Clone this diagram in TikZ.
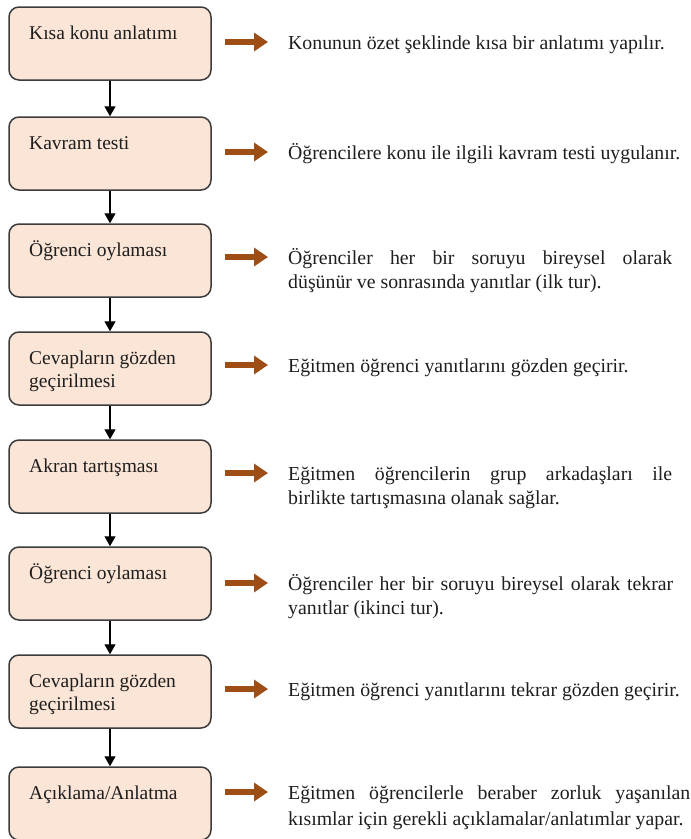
\documentclass[tikz,border=0pt]{standalone}
\usepackage{fontspec}
\setmainfont{Liberation Serif}
\usetikzlibrary{arrows.meta}
\definecolor{boxfill}{HTML}{FBE5D6}
\definecolor{boxline}{HTML}{3C3C3C}
\definecolor{arrowc}{RGB}{158,78,20}
\definecolor{txt}{HTML}{1E1E1E}
\newcommand{\topstrut}{\rule{0pt}{18pt}}
\begin{document}
\begin{tikzpicture}[x=1pt,y=-1pt,
  stepbox/.style={draw=boxline,line width=1.5pt,fill=boxfill,rounded corners=10pt,
    minimum width=202pt,minimum height=73pt,inner sep=0pt},
  boxtext/.style={anchor=north west,inner sep=0pt,text=txt,align=left,
    font=\fontsize{19.5}{23}\selectfont},
  desc/.style={anchor=north west,inner sep=0pt,text=txt,align=left,
    font=\fontsize{19.8}{24}\selectfont},
  orarrow/.style={draw=arrowc,line width=6pt,-{Triangle[length=14pt,width=18pt]},shorten >=20pt},
  downarrow/.style={draw=black,line width=1.3pt,-{Triangle[length=10pt,width=11pt]}}]
\useasboundingbox (0,0) rectangle (691,839);
\foreach \i/\t in {1/7,2/117,3/224,4/332,5/440,6/547,7/655,8/767}{
  \node[stepbox] (b\i) at (110,\t+36.5) {};
}
% text baseline = box top + 32 ; node top = baseline - 18
\node[boxtext] (t1) at (29,7+14) {\topstrut Kısa konu anlatımı};
\node[boxtext] (t2) at (29,117+14) {\topstrut Kavram testi};
\node[boxtext] (t3) at (29,224+14) {\topstrut Öğrenci oylaması};
\node[boxtext] (t4) at (29,332+14) {\topstrut Cevapların gözden\\geçirilmesi};
\node[boxtext] (t5) at (29,440+14) {\topstrut Akran tartışması};
\node[boxtext] (t6) at (29,547+14) {\topstrut Öğrenci oylaması};
\node[boxtext] (t7) at (29,655+14) {\topstrut Cevapların gözden\\geçirilmesi};
\node[boxtext] (t8) at (29,767+14) {\topstrut Açıklama/Anlatma};
\foreach \i/\j in {1/2,2/3,3/4,4/5,5/6,6/7,7/8}{
  \draw[downarrow] (b\i.south) -- (b\j.north);
}
% description baseline = line centre + 7 ; node top = baseline - 18
\node[desc] (d1) at (288,42-11) {\topstrut Konunun özet şeklinde kısa bir anlatımı yapılır.};
\node[desc] (d2) at (288,152-11) {\topstrut Öğrencilere konu ile ilgili kavram testi uygulanır.};
\node[desc] (d3) at (288,257-11) {\topstrut\makebox[384pt][s]{Öğrenciler her bir soruyu bireysel olarak}\\düşünür ve sonrasında yanıtlar (ilk tur).};
\node[desc] (d4) at (288,365-11) {\topstrut Eğitmen öğrenci yanıtlarını gözden geçirir.};
\node[desc] (d5) at (288,473-11) {\topstrut\makebox[384pt][s]{Eğitmen öğrencilerin grup arkadaşları ile}\\birlikte tartışmasına olanak sağlar.};
\node[desc] (d6) at (288,583-11) {\topstrut\makebox[385pt][s]{Öğrenciler her bir soruyu bireysel olarak tekrar}\\yanıtlar (ikinci tur).};
\node[desc] (d7) at (288,689-11) {\topstrut Eğitmen öğrenci yanıtlarını tekrar gözden geçirir.};
\node[desc,font=\fontsize{19.8}{26}\selectfont] (d8) at (288,792-11) {\topstrut\makebox[402pt][s]{Eğitmen öğrencilerle beraber zorluk yaşanılan}\\kısımlar için gerekli açıklamalar/anlatımlar yapar.};
\foreach \i/\y in {1/42,2/152,3/257,4/365,5/473,6/583,7/689,8/792}{
  \coordinate (a\i) at (225,\y);
  \draw[orarrow] (a\i) -- (a\i -| d\i.west);
}
\end{tikzpicture}
\end{document}
